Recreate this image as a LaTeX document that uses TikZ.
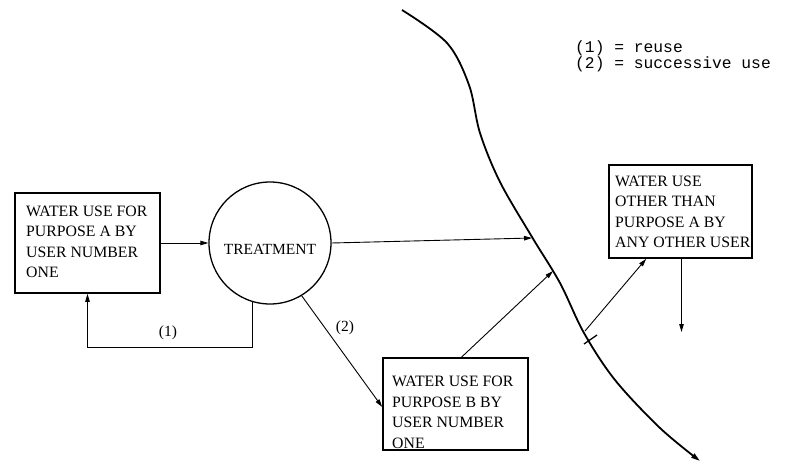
\documentclass[tikz,border=0pt]{standalone}
\usepackage{fontspec}
\setmainfont{Liberation Serif}
\newfontfamily\legendfont{Liberation Mono}
\usetikzlibrary{arrows.meta,calc}
\begin{document}
\begin{tikzpicture}[x=1pt,y=-1pt,
  box/.style={draw,line width=1.6pt,inner sep=0pt},
  txt/.style={font=\fontsize{15.8}{20.5}\selectfont,align=left,inner sep=0pt,anchor=west},
  lbl/.style={font=\fontsize{15.5}{18}\selectfont,inner sep=0pt},
  legend/.style={font=\legendfont\fontsize{16.3}{14.5}\selectfont,align=left,inner sep=0pt,anchor=north west},
  arr/.style={line width=0.9pt,-{Triangle[length=8pt,width=4.5pt]}},
  river/.style={line width=1.8pt,-{Triangle[length=9pt,width=5pt]}}]
\path[use as bounding box] (0,0) rectangle (785,463);

% boxes
\node[box,minimum width=145pt,minimum height=100pt] (a) at (87.5,243) {};
\node[txt] (at) at (26,242) {WATER USE FOR\\PURPOSE A BY\\USER NUMBER\\ONE};

\node[draw,circle,line width=1.3pt,minimum size=122pt,inner sep=0pt] (t) at (270,243) {};
\node[lbl] (tt) at (270,249.5) {TREATMENT};

\node[box,minimum width=145pt,minimum height=92pt] (b) at (455.5,404) {};
\node[txt] (bt) at (392,412.5) {WATER USE FOR\\PURPOSE B BY\\USER NUMBER\\ONE};

\node[box,minimum width=143pt,minimum height=93pt] (c) at (680.5,211.5) {};
\node[txt] (ct) at (615,212) {WATER USE\\OTHER THAN\\PURPOSE A BY\\ANY OTHER USER};

% legend
\node[legend] (lg) at (575,40) {(1) = reuse\\(2) = successive use};

% river
\draw[river] plot[smooth,tension=0.55] coordinates {(402,10) (447,43) (469,85) (480,133) (500,182) (532,237) (560,283) (584,333) (615,380) (660,428) (700,461)};
\coordinate (r1) at (532,238);
\coordinate (r2) at (553,271);
\coordinate (r3) at (585,331);
\coordinate (k1) at (584,344);
\coordinate (k2) at (597,335);
\draw[line width=1.3pt] (k1) -- (k2);

% connectors
\draw[arr] (a.east) -- (t.west);
\draw[arr] (t.east) -- (r1);
\coordinate (fb) at (87.5,347);
\draw[arr] (t.-107) |- (fb) -- (a.south);
\node[lbl] (n1) at (168,333) {(1)};
\draw[arr] (t.-59) -- ($(b.west)+(0,3)$);
\node[lbl] (n2) at (345,328) {(2)};
\draw[arr] ($(b.north)+(6,0)$) -- (r2);
\draw[arr] (r3) -- ($(c.south west)+(38,0)$);
\coordinate (cd) at (681.5,332);
\draw[arr] ($(c.south)+(1,0)$) -- (cd);
\end{tikzpicture}
\end{document}
